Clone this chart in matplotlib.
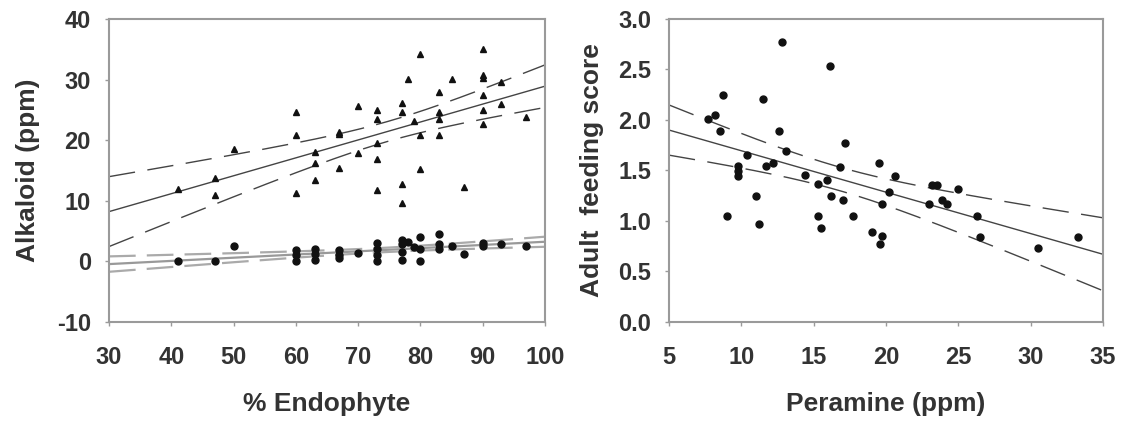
import numpy as np
import matplotlib
matplotlib.use('Agg')
import matplotlib.pyplot as plt

plt.rcParams['font.family'] = ['Liberation Sans', 'DejaVu Sans']
plt.rcParams['font.weight'] = 'bold'
plt.rcParams['axes.unicode_minus'] = False

# 左图：内生菌比例 vs 生物碱（三角 / 圆点两组）
tri_x = [41, 47, 47, 50, 60, 60, 60, 63, 63, 63, 67, 67, 67, 70, 70,
         73, 73, 73, 73, 73, 77, 77, 77, 77, 78, 79, 80, 80, 80,
         83, 83, 83, 83, 85, 87, 90, 90, 90, 90, 90, 90, 93, 93, 97]
tri_y = [12.0, 13.7, 11.0, 18.6, 24.6, 20.9, 11.3, 18.0, 16.2, 13.5,
         21.3, 21.0, 15.4, 25.7, 17.9, 25.0, 23.5, 19.5, 16.9, 11.7,
         26.1, 24.6, 12.8, 9.7, 30.1, 23.2, 34.2, 20.8, 15.3,
         27.9, 24.6, 23.5, 20.9, 30.1, 12.3, 35.1, 30.8, 30.3, 27.5,
         24.9, 22.7, 29.6, 26.0, 23.9]

dot_x = [41, 47, 50, 60, 60, 60, 63, 63, 63, 67, 67, 67, 70,
         73, 73, 73, 73, 77, 77, 77, 77, 78, 79, 80, 80, 80,
         83, 83, 83, 85, 87, 90, 90, 93, 97]
dot_y = [0.0, 0.0, 2.5, 0.0, 1.0, 1.8, 0.3, 1.2, 2.0, 0.5, 1.0, 1.8, 1.4,
         0.1, 1.0, 2.0, 3.0, 0.3, 1.5, 2.9, 3.5, 3.2, 2.4, 0.05, 2.1, 4.0,
         2.1, 2.9, 4.6, 2.6, 1.3, 2.6, 3.1, 2.9, 2.6]

# 右图：peramine vs 成虫取食评分
pera_x = [7.7, 8.2, 8.5, 8.7, 9.0, 9.8, 9.8, 9.8, 10.4, 11.0, 11.2, 11.5,
          11.7, 12.2, 12.6, 12.8, 13.1, 14.4, 15.3, 15.3, 15.5, 15.9, 16.1,
          16.2, 16.8, 17.0, 17.2, 17.7, 19.0, 19.5, 19.7, 19.7, 19.6, 20.2,
          20.6, 23.0, 23.2, 23.5, 23.9, 24.2, 25.0, 26.3, 26.5, 30.5, 33.3]
feed = [2.01, 2.05, 1.89, 2.25, 1.05, 1.54, 1.49, 1.45, 1.65, 1.25, 0.97,
        2.21, 1.54, 1.57, 1.89, 2.77, 1.69, 1.46, 1.37, 1.05, 0.93, 1.41,
        2.53, 1.25, 1.53, 1.21, 1.77, 1.05, 0.89, 1.57, 1.17, 0.85, 0.77,
        1.29, 1.45, 1.17, 1.36, 1.36, 1.21, 1.17, 1.32, 1.05, 0.84, 0.73, 0.84]

T95 = 2.01  # t(0.975, df~40)
DASH = (19, 9)
TXT = '#333333'
FRAME = '#9a9a9a'
LABEL_FS = 19


def fit_band(x, y, xs):
    # 线性回归及其均值的 95% 置信带
    x = np.asarray(x, float)
    y = np.asarray(y, float)
    b, a = np.polyfit(x, y, 1)
    n = len(x)
    resid = y - (a + b * x)
    s = np.sqrt(np.sum(resid ** 2) / (n - 2))
    sxx = np.sum((x - x.mean()) ** 2)
    se = s * np.sqrt(1 / n + (xs - x.mean()) ** 2 / sxx)
    yh = a + b * xs
    return yh, yh - T95 * se, yh + T95 * se


def style(ax):
    for sp in ax.spines.values():
        sp.set_color(FRAME)
        sp.set_linewidth(1.5)
    ax.tick_params(direction='out', length=3, width=1, color=FRAME,
                   labelsize=17, labelcolor=TXT)
    ax.tick_params(axis='x', pad=14)
    ax.tick_params(axis='y', pad=10)
    for lab in ax.get_xticklabels() + ax.get_yticklabels():
        lab.set_fontweight('bold')


fig = plt.figure(figsize=(11.31, 4.22), dpi=100)
ax1 = fig.add_axes([0.0964, 0.237, 0.3855, 0.718])
ax2 = fig.add_axes([0.5915, 0.237, 0.3837, 0.718])

# 左图
xs = np.linspace(30, 100, 200)
yh, lo, hi = fit_band(tri_x, tri_y, xs)
ax1.plot(xs, yh, color='#444444', lw=1.0)
ax1.plot(xs, lo, color='#444444', lw=1.0, dashes=DASH)
ax1.plot(xs, hi, color='#444444', lw=1.0, dashes=DASH)
yh, lo, hi = fit_band(dot_x, dot_y, xs)
ax1.plot(xs, yh, color='#999999', lw=1.6)
ax1.plot(xs, lo, color='#aaaaaa', lw=1.6, dashes=(12, 5))
ax1.plot(xs, hi, color='#aaaaaa', lw=1.6, dashes=(12, 5))
ax1.plot(tri_x, tri_y, '^', color='#111111', ms=4.8, ls='none')
ax1.plot(dot_x, dot_y, 'o', color='#111111', ms=5, ls='none')
ax1.set_xlim(30, 100)
ax1.set_ylim(-10, 40)
ax1.set_xticks(range(30, 101, 10))
ax1.set_yticks(range(-10, 41, 10))
ax1.set_xlabel('% Endophyte', fontsize=LABEL_FS, fontweight='bold',
               color=TXT, labelpad=17)
ax1.set_ylabel('Alkaloid (ppm)', fontsize=LABEL_FS, fontweight='bold',
               color=TXT, labelpad=12)
style(ax1)

# 右图
xs = np.linspace(5, 35, 200)
yh, lo, hi = fit_band(pera_x, feed, xs)
ax2.plot(xs, yh, color='#444444', lw=1.0)
ax2.plot(xs, lo, color='#444444', lw=1.0, dashes=DASH)
ax2.plot(xs, hi, color='#444444', lw=1.0, dashes=DASH)
ax2.plot(pera_x, feed, 'o', color='#111111', ms=5, ls='none')
ax2.set_xlim(5, 35)
ax2.set_ylim(0, 3)
ax2.set_xticks(range(5, 36, 5))
ax2.set_yticks(np.arange(0, 3.01, 0.5))
ax2.set_yticklabels([f'{v:.1f}' for v in np.arange(0, 3.01, 0.5)])
ax2.set_xlabel('Peramine (ppm)', fontsize=LABEL_FS, fontweight='bold',
               color=TXT, labelpad=17)
ax2.set_ylabel('Adult  feeding score', fontsize=LABEL_FS, fontweight='bold',
               color=TXT, labelpad=10)
style(ax2)

fig.savefig('out.png', dpi=100)
